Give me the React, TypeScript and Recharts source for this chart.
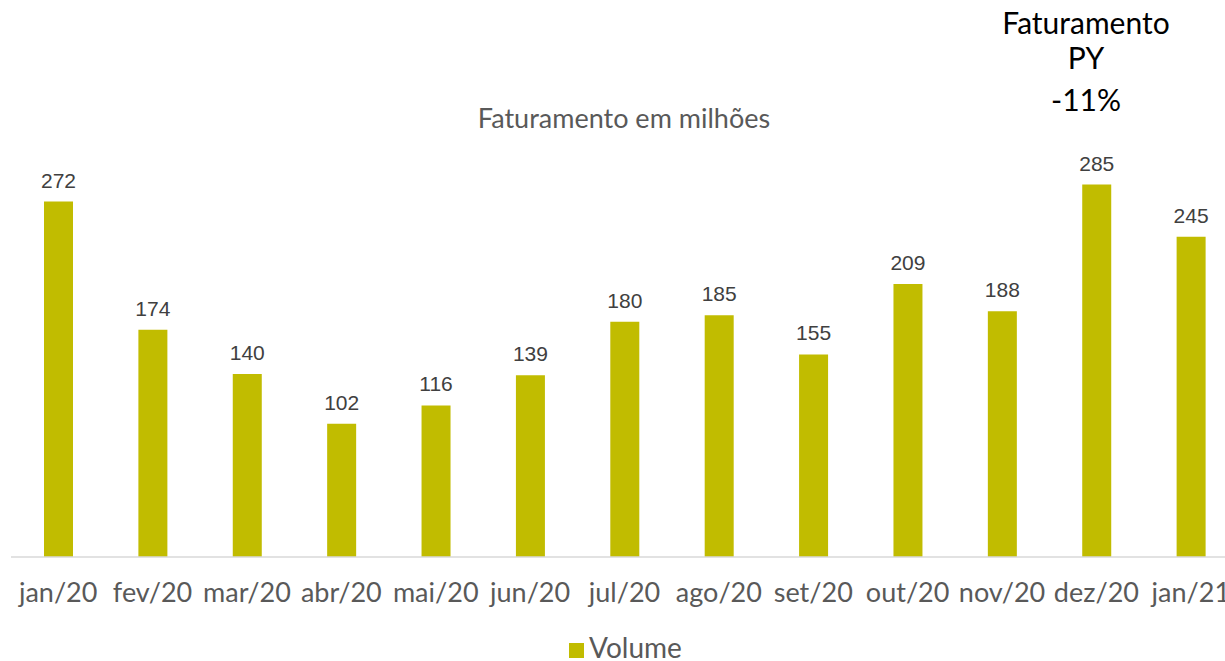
import React from "react";
import { BarChart, Bar, XAxis, YAxis, LabelList, Legend } from "recharts";

const months = ["jan/20", "fev/20", "mar/20", "abr/20", "mai/20", "jun/20", "jul/20", "ago/20", "set/20", "out/20", "nov/20", "dez/20", "jan/21"];
const volume = [272, 174, 140, 102, 116, 139, 180, 185, 155, 209, 188, 285, 245];
const chartTitle = "Faturamento em milhões";
const noteLines = ["Faturamento", "PY", "-11%"];

const data = months.map((m, i) => ({ month: m, Volume: volume[i] }));

const LATO = "Lato, 'Noto Sans', sans-serif";
const ARIAL = "'Liberation Sans', Arial, sans-serif";
const BAR = "#C1BC00";

export default function App() {
  return (
    <div style={{ position: "fixed", left: 0, top: 0, width: 1225, height: 661, overflow: "hidden", fontFamily: LATO, background: "#fff" }}>
      <BarChart
        width={1241}
        height={661}
        data={data}
        margin={{ top: 165, right: 3, left: 11, bottom: 0 }}
      >
        <XAxis
          dataKey="month"
          tickLine={false}
          axisLine={{ stroke: "#D9D9D9", strokeWidth: 1.5 }}
          tick={{ fill: "#595959", fontSize: 27, fontFamily: LATO }}
          tickSize={0}
          tickMargin={26}
          interval={0}
          height={76}
        />
        <YAxis hide domain={[0, 300]} />
        <Legend
          verticalAlign="bottom"
          iconType="square"
          iconSize={15}
          wrapperStyle={{ left: 17, fontFamily: LATO, fontSize: 28, lineHeight: "28px" }}
          formatter={(v) => <span style={{ color: "#595959", marginLeft: 1 }}>{v}</span>}
        />
        <Bar dataKey="Volume" fill={BAR} barSize={29} isAnimationActive={false}>
          <LabelList
            dataKey="Volume"
            position="top"
            offset={14}
            style={{ fill: "#404040", fontSize: 21, fontFamily: ARIAL }}
          />
        </Bar>
      </BarChart>
      <div
        style={{
          position: "absolute",
          left: 624 - 300,
          width: 600,
          top: 118 - 16,
          textAlign: "center",
          color: "#595959",
          fontSize: 27,
          lineHeight: "32px",
        }}
      >
        {chartTitle}
      </div>
      {noteLines.map((t, i) => (
        <div
          key={t}
          style={{
            position: "absolute",
            left: 1086 - 150,
            width: 300,
            top: [22, 57, 99][i] - 18,
            textAlign: "center",
            color: "#000000",
            fontSize: 30,
            lineHeight: "36px",
          }}
        >
          {t}
        </div>
      ))}
    </div>
  );
}
